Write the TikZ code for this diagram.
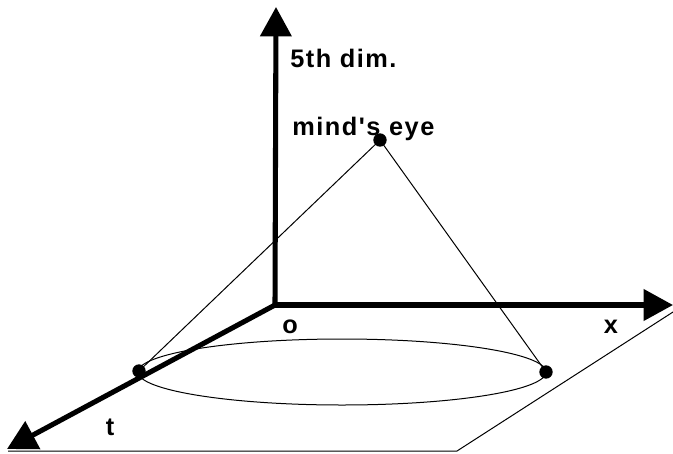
\documentclass[tikz,border=0pt]{standalone}
\usepackage{fontspec}
\newfontfamily\labelfont{Liberation Sans}[LetterSpace=6]
\usetikzlibrary{arrows.meta, positioning}

\begin{document}
\begin{tikzpicture}[
        x=0.75pt, y=-0.75pt,
        axis/.style={line width=3.8pt, -{Triangle[length=22pt, width=23pt]}},
        thinline/.style={line width=0.75pt},
        dot/.style={fill, circle, inner sep=0pt, minimum size=10pt},
        lbl/.style={font=\labelfont\bfseries\fontsize{19}{21}\selectfont, inner sep=0pt}
    ]
        \useasboundingbox (0,0) rectangle (673,453);

        % Points
        \coordinate (origin) at (275,305);
        \coordinate (fifthtip) at (276,7);
        \coordinate (xtip) at (673,305);
        \coordinate (ttip) at (7,449);
        \coordinate (planeA) at (8,451);
        \coordinate (planeB) at (457,451);
        \coordinate (planeC) at (673,312);

        % Plane
        \draw[thinline] (planeA) -- (planeB) -- (planeC);

        % Axes
        \draw[axis] (origin) -- (fifthtip);
        \draw[axis] (origin) -- (xtip);
        \draw[axis] (origin) -- (ttip);

        % Orbit
        \draw[thinline] (342,372) ellipse [x radius=204, y radius=33];

        % Dots
        \node[dot] (eye) at (380,140) {};
        \node[dot] (left) at (139,371) {};
        \node[dot] (right) at (546,372) {};

        % Sight lines
        \draw[thinline] (eye.center) -- (left.center);
        \draw[thinline] (eye.center) -- (right.center);

        % Labels
        \node[lbl, anchor=base west] (fifthlbl) at (290,67) {5th dim.};
        \node[lbl, anchor=base west] (eyelbl) at (292,135) {mind's eye};
        \node[lbl, anchor=base] (olbl) at (290,333) {o};
        \node[lbl, anchor=base] (xlbl) at (611,333) {x};
        \node[lbl, anchor=base] (tlbl) at (110,435) {t};
    \end{tikzpicture}
\end{document}
